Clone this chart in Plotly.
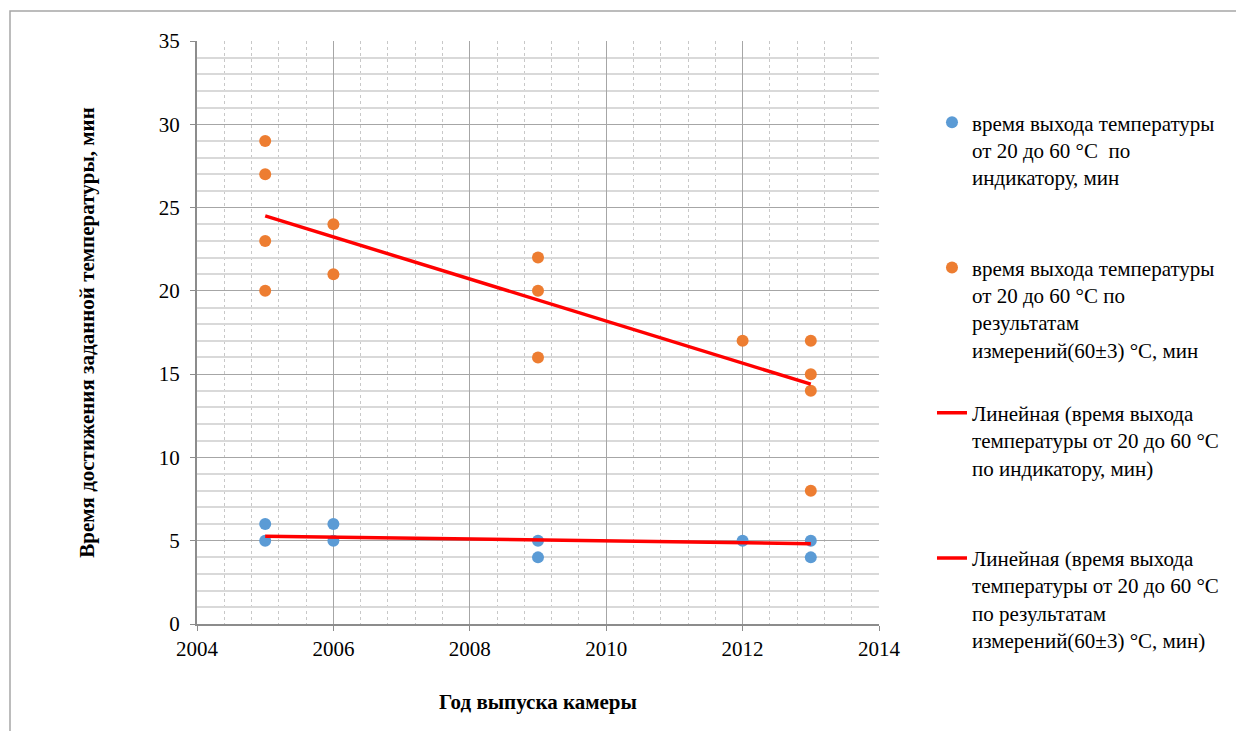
import plotly.graph_objects as go

# ---- data ----
ind_years = [2005, 2005, 2006, 2006, 2009, 2009, 2012, 2013, 2013]
ind_minutes = [6, 5, 6, 5, 5, 4, 5, 5, 4]

meas_years = [2005, 2005, 2005, 2005, 2006, 2006, 2009, 2009, 2009, 2012, 2013, 2013, 2013, 2013]
meas_minutes = [29, 27, 23, 20, 24, 21, 22, 20, 16, 17, 17, 15, 14, 8]

trend_years = [2005, 2013]
trend_ind = [5.27, 4.82]
trend_meas = [24.5, 14.4]

name_ind = "время выхода температуры<br>от 20 до 60 °C  по<br>индикатору, мин<br>&nbsp;"
name_meas = "время выхода температуры<br>от 20 до 60 °C по<br>результатам<br>измерений(60±3) °C, мин"
name_tr_ind = "Линейная (время выхода<br>температуры от 20 до 60 °C<br>по индикатору, мин)<br>&nbsp;"
name_tr_meas = "Линейная (время выхода<br>температуры от 20 до 60 °C<br>по результатам<br>измерений(60±3) °C, мин)"

x_title = "Год выпуска камеры"
y_title = "Время достижения заданной температуры, мин"

FONT = "Liberation Serif"

fig = go.Figure()
fig.add_trace(go.Scatter(x=ind_years, y=ind_minutes, mode="markers", name=name_ind,
                         legendgroup="a",
                         marker=dict(color="#5B9BD5", size=12)))
fig.add_trace(go.Scatter(x=meas_years, y=meas_minutes, mode="markers", name=name_meas,
                         legendgroup="b",
                         marker=dict(color="#ED7D31", size=12)))
fig.add_trace(go.Scatter(x=trend_years, y=trend_ind, mode="lines", name=name_tr_ind,
                         legendgroup="c",
                         line=dict(color="#FF0000", width=3.5)))
fig.add_trace(go.Scatter(x=trend_years, y=trend_meas, mode="lines", name=name_tr_meas,
                         legendgroup="d",
                         line=dict(color="#FF0000", width=3.5)))

fig.update_layout(
    width=1236, height=731,
    margin=dict(l=197, r=357, t=41, b=107),
    paper_bgcolor="white", plot_bgcolor="white",
    font=dict(family=FONT, size=21, color="black"),
    showlegend=True,
    legend=dict(x=1.0777, y=0.895, xanchor="left", yanchor="top",
                valign="top", tracegroupgap=33,
                font=dict(family=FONT, size=21, color="black"),
                bgcolor="rgba(0,0,0,0)"),
    xaxis=dict(range=[2004, 2014], dtick=2, tick0=2004,
               showgrid=True, gridcolor="#A6A6A6", gridwidth=1.3,
               showline=True, linecolor="#8C8C8C", linewidth=2,
               ticks="outside", ticklen=5, tickcolor="#8C8C8C",
               zeroline=False,
               tickfont=dict(family=FONT, size=21),
               minor=dict(dtick=0.4, tick0=2004, showgrid=True, gridcolor="#C8C8C8",
                          griddash="dot", gridwidth=1),
               title=dict(text="<b>" + x_title + "</b>", standoff=34,
                          font=dict(family=FONT, size=21))),
    yaxis=dict(range=[0, 35], dtick=5, tick0=0,
               showgrid=True, gridcolor="#A6A6A6", gridwidth=1.3,
               showline=True, linecolor="#8C8C8C", linewidth=2,
               ticks="outside", ticklen=5, tickcolor="#8C8C8C",
               zeroline=False, ticklabelstandoff=6,
               tickfont=dict(family=FONT, size=21),
               minor=dict(dtick=1, showgrid=True, gridcolor="#D9D9D9", gridwidth=2),
               title=dict(text="<b>" + y_title + "</b>", standoff=58,
                          font=dict(family=FONT, size=21))),
    shapes=[dict(type="rect", xref="paper", yref="paper",
                 x0=(10 - 197) / 682, x1=1.7, y0=-0.4, y1=(624 - 11) / 583,
                 line=dict(color="#A6A6A6", width=1.5), fillcolor="rgba(0,0,0,0)",
                 layer="below")],
)

fig.write_html("out.html")
